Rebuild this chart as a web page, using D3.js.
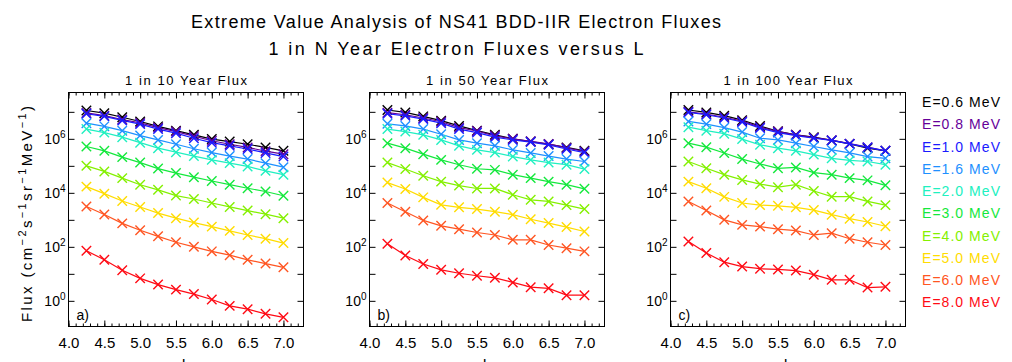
<!DOCTYPE html>
<html>
<head>
<meta charset="utf-8">
<script src="https://cdn.jsdelivr.net/npm/d3@7"></script>
<style>
	body{margin:0;background:#fff;}
	svg text{font-family:"Liberation Sans",Arial,sans-serif;fill:#000;}
</style>
</head>
<body>
<svg id="chart" width="1012" height="362"></svg>
<script>
const lValues = [4.25, 4.5, 4.75, 5.0, 5.25, 5.5, 5.75, 6.0, 6.25, 6.5, 6.75, 7.0];
const energyLabels = ["E=0.6 MeV", "E=0.8 MeV", "E=1.0 MeV", "E=1.6 MeV", "E=2.0 MeV",
	"E=3.0 MeV", "E=4.0 MeV", "E=5.0 MeV", "E=6.0 MeV", "E=8.0 MeV"];
const energyColors = ["#000000", "#650099", "#1a1aff", "#1e90ff", "#20f0c0",
	"#14e83c", "#84f000", "#ffdc00", "#ff5522", "#ff0a14"];
const panelTitles = ["1 in 10 Year Flux", "1 in 50 Year Flux", "1 in 100 Year Flux"];
const panelTags = ["a)", "b)", "c)"];
const xTickValues = [4.0, 4.5, 5.0, 5.5, 6.0, 6.5, 7.0];
const yTickValues = [1, 1e1, 1e2, 1e3, 1e4, 1e5, 1e6, 1e7];
const yLabelValues = [1, 1e2, 1e4, 1e6];

// flux per energy (rows) versus L (columns)
const flux10 = [
	[1.12e7, 8.9e6, 6.3e6, 4.4e6, 2.9e6, 2.0e6, 1.41e6, 9.8e5, 7.9e5, 6.3e5, 4.8e5, 3.6e5],
	[9.1e6, 7.2e6, 5.2e6, 3.9e6, 2.6e6, 1.86e6, 1.26e6, 8.5e5, 6.3e5, 4.8e5, 3.5e5, 2.7e5],
	[8.5e6, 6.8e6, 4.8e6, 3.5e6, 2.3e6, 1.62e6, 1.05e6, 7.2e5, 5.5e5, 4.2e5, 3.0e5, 2.2e5],
	[3.8e6, 2.9e6, 2.0e6, 1.32e6, 9.1e5, 6.3e5, 4.3e5, 3.1e5, 2.3e5, 1.78e5, 1.26e5, 8.9e4],
	[2.3e6, 1.7e6, 1.15e6, 7.2e5, 4.5e5, 3.2e5, 2.3e5, 1.66e5, 1.26e5, 9.5e4, 6.5e4, 4.7e4],
	[5.2e5, 3.6e5, 2.1e5, 1.32e5, 7.9e4, 5.4e4, 3.8e4, 2.75e4, 2.0e4, 1.48e4, 1.12e4, 7.8e3],
	[1.0e5, 6.2e4, 3.5e4, 2.0e4, 1.29e4, 7.9e3, 5.9e3, 4.2e3, 3.0e3, 2.2e3, 1.62e3, 1.15e3],
	[1.7e4, 9.3e3, 5.0e3, 3.0e3, 1.78e3, 1.15e3, 7.9e2, 5.6e2, 3.9e2, 2.75e2, 2.0e2, 1.38e2],
	[3.1e3, 1.58e3, 7.4e2, 4.1e2, 2.45e2, 1.48e2, 1.0e2, 68, 49, 33, 24, 17.4],
	[72, 33, 13.5, 6.8, 4.0, 2.6, 1.78, 1.12, 0.65, 0.49, 0.33, 0.245]
];
const flux50 = [
	[1.17e7, 9.5e6, 6.8e6, 4.7e6, 3.0e6, 2.0e6, 1.41e6, 1.0e6, 7.9e5, 6.3e5, 4.8e5, 3.6e5],
	[9.3e6, 7.8e6, 5.9e6, 4.3e6, 2.6e6, 1.95e6, 1.29e6, 1.0e6, 8.1e5, 6.5e5, 4.6e5, 3.4e5],
	[8.5e6, 7.1e6, 5.4e6, 3.8e6, 2.3e6, 1.7e6, 1.15e6, 9.1e5, 7.6e5, 6.0e5, 4.2e5, 3.1e5],
	[3.6e6, 3.0e6, 2.3e6, 1.48e6, 9.1e5, 6.9e5, 5.5e5, 3.9e5, 3.0e5, 2.3e5, 1.78e5, 1.45e5],
	[2.3e6, 1.86e6, 1.41e6, 9.1e5, 5.5e5, 3.9e5, 3.1e5, 2.2e5, 1.66e5, 1.32e5, 1.1e5, 7.6e4],
	[6.9e5, 4.5e5, 2.7e5, 1.66e5, 1.1e5, 7.8e4, 7.1e4, 4.7e4, 3.5e4, 2.6e4, 2.0e4, 1.41e4],
	[1.32e5, 7.6e4, 4.3e4, 2.6e4, 1.86e4, 1.45e4, 1.45e4, 8.5e3, 5.5e3, 4.8e3, 3.5e3, 2.5e3],
	[2.4e4, 1.38e4, 6.8e3, 3.6e3, 2.9e3, 2.5e3, 2.0e3, 1.55e3, 1.05e3, 7.6e2, 5.4e2, 3.7e2],
	[4.2e3, 2.0e3, 9.5e2, 6.0e2, 4.5e2, 3.4e2, 2.75e2, 1.82e2, 1.82e2, 1.17e2, 89, 68],
	[129, 48, 23, 14.1, 10.5, 8.5, 7.1, 4.8, 3.2, 2.9, 1.62, 1.62]
];
const flux100 = [
	[1.17e7, 9.5e6, 7.2e6, 4.9e6, 3.0e6, 1.9e6, 1.41e6, 1.15e6, 8.7e5, 6.5e5, 4.5e5, 3.6e5],
	[1.0e7, 8.3e6, 6.3e6, 4.5e6, 2.7e6, 1.86e6, 1.41e6, 1.1e6, 8.9e5, 6.6e5, 4.9e5, 3.6e5],
	[9.5e6, 7.8e6, 5.9e6, 4.2e6, 2.5e6, 1.7e6, 1.32e6, 1.05e6, 8.7e5, 6.5e5, 4.8e5, 3.6e5],
	[4.4e6, 3.5e6, 2.6e6, 1.78e6, 1.05e6, 9.1e5, 6.9e5, 5.2e5, 3.9e5, 3.0e5, 2.2e5, 1.9e5],
	[2.7e6, 2.0e6, 1.55e6, 9.8e5, 6.0e5, 4.5e5, 3.6e5, 2.6e5, 1.9e5, 1.58e5, 1.45e5, 1.1e5],
	[6.9e5, 4.9e5, 3.0e5, 1.78e5, 1.17e5, 8.1e4, 8.7e4, 5.6e4, 4.7e4, 3.5e4, 2.9e4, 1.9e4],
	[1.45e5, 8.1e4, 4.7e4, 3.0e4, 2.1e4, 1.62e4, 2.0e4, 1.17e4, 7.2e3, 7.2e3, 4.8e3, 3.5e3],
	[2.6e4, 1.48e4, 7.1e3, 4.2e3, 3.5e3, 3.3e3, 2.9e3, 2.3e3, 1.55e3, 1.1e3, 8.3e2, 5.8e2],
	[4.8e3, 2.2e3, 1.0e3, 6.5e2, 5.6e2, 4.5e2, 4.0e2, 2.75e2, 3.2e2, 2.0e2, 1.48e2, 1.17e2],
	[158, 59, 27, 18.6, 15.5, 14.5, 13.2, 9.3, 6.0, 6.0, 3.1, 3.3]
];
const panelFluxes = [flux10, flux50, flux100];

let svg = d3.select("#chart"),
	panelLeft = [68.5, 369.5, 670.5],
	panelWidth = 235,
	panelTop = 92.5,
	panelHeight = 234,
	y = d3.scaleLog().domain([0.112, 5.2e7]).range([panelTop + panelHeight, panelTop]);

// titles
svg.append("text").attr("x", 456).attr("y", 27.5).attr("text-anchor", "middle")
	.attr("font-size", "18px").attr("textLength", 530).attr("lengthAdjust", "spacing")
	.text("Extreme Value Analysis of NS41 BDD-IIR Electron Fluxes");
svg.append("text").attr("x", 456).attr("y", 55).attr("text-anchor", "middle")
	.attr("font-size", "18px").attr("textLength", 375).attr("lengthAdjust", "spacing")
	.text("1 in N Year Electron Fluxes versus L");

panelFluxes.forEach(function(fluxes, i){
	drawPanel(i, fluxes);
});
drawLegend();
drawYLabel();

function drawPanel(i, fluxes){
	let left = panelLeft[i],
		bottom = panelTop + panelHeight,
		x = d3.scaleLinear().domain([4.0, 7.28]).range([left, left + panelWidth]),
		minorTicks = d3.range(40, 73).map(function(v){ return v / 10; }),
		g = svg.append("g").attr("class", "panel"),
		line = d3.line()
			.x(function(d, j){ return x(lValues[j]); })
			.y(function(d){ return y(d); });

	g.append("text").attr("x", left + panelWidth / 2).attr("y", 85).attr("text-anchor", "middle")
		.attr("font-size", "13px").attr("textLength", i === 2 ? 129 : 122).attr("lengthAdjust", "spacing")
		.text(panelTitles[i]);

	// frame and inward ticks
	g.append("rect").attr("x", left).attr("y", panelTop).attr("width", panelWidth).attr("height", panelHeight)
		.attr("fill", "none").attr("stroke", "#000").attr("stroke-width", 1);

	addAxis(d3.axisBottom(x).tickValues(minorTicks).tickSize(-3).tickFormat(""), 0, bottom);
	addAxis(d3.axisTop(x).tickValues(minorTicks).tickSize(-3).tickFormat(""), 0, panelTop);
	addAxis(d3.axisTop(x).tickValues(xTickValues).tickSize(-6).tickFormat(""), 0, panelTop);
	addAxis(d3.axisLeft(y).tickValues(yTickValues).tickSize(-6).tickFormat(""), left, 0);
	addAxis(d3.axisRight(y).tickValues(yTickValues).tickSize(-6).tickFormat(""), left + panelWidth, 0);
	addAxis(d3.axisBottom(x).tickValues(xTickValues).tickSize(-6).tickPadding(11)
		.tickFormat(d3.format(".1f")), 0, bottom)
		.selectAll("text").attr("font-size", "15px").attr("font-family", "Liberation Sans, Arial, sans-serif");

	g.selectAll(".ylab").data(yLabelValues).enter().append("text")
		.attr("class", "ylab")
		.attr("x", left - 3)
		.attr("y", function(d){ return y(d) + 5; })
		.attr("text-anchor", "end")
		.attr("font-size", "14px")
		.each(function(d){
			let t = d3.select(this);
			t.append("tspan").text("10");
			t.append("tspan").attr("dy", -6).attr("font-size", "10px").text(Math.round(Math.log10(d)));
		});

	fluxes.forEach(function(series, k){
		let color = energyColors[k];
		g.append("path").datum(series).attr("d", line)
			.attr("fill", "none").attr("stroke", color).attr("stroke-width", 1.2);
		g.selectAll(".mk" + k).data(series).enter().append("path")
			.attr("class", "mk" + k)
			.attr("d", d3.symbol().type(d3.symbolX).size(60))
			.attr("transform", function(d, j){ return "translate(" + x(lValues[j]) + "," + y(d) + ")"; })
			.attr("fill", "none").attr("stroke", color).attr("stroke-width", 1.4);
	});

	g.append("text").attr("x", left + 8).attr("y", 320).attr("font-size", "14px").text(panelTags[i]);
	g.append("text").attr("x", left + panelWidth / 2).attr("y", 369).attr("text-anchor", "middle")
		.attr("font-size", "15px").text("L");

	function addAxis(axis, tx, ty){
		let a = g.append("g").attr("transform", "translate(" + tx + "," + ty + ")").call(axis);
		a.select(".domain").remove();
		a.selectAll("line").attr("stroke", "#000");
		return a;
	}
}

function drawLegend(){
	svg.selectAll(".legend").data(energyLabels).enter().append("text")
		.attr("class", "legend")
		.attr("x", 922)
		.attr("y", function(d, k){ return 107 + k * 22.25; })
		.attr("font-size", "14px")
		.attr("textLength", 78).attr("lengthAdjust", "spacing")
		.style("fill", function(d, k){ return energyColors[k]; })
		.text(function(d){ return d; });
}

function drawYLabel(){
	let t = svg.append("text")
		.attr("transform", "translate(32,214) rotate(-90)")
		.attr("text-anchor", "middle")
		.attr("font-size", "15px")
		.attr("textLength", 216).attr("lengthAdjust", "spacing");
	t.append("tspan").text("Flux (cm");
	t.append("tspan").attr("dy", -6).attr("font-size", "11px").text("\u22122");
	t.append("tspan").attr("dy", 6).text("s");
	t.append("tspan").attr("dy", -6).attr("font-size", "11px").text("\u22121");
	t.append("tspan").attr("dy", 6).text("sr");
	t.append("tspan").attr("dy", -6).attr("font-size", "11px").text("\u22121");
	t.append("tspan").attr("dy", 6).text("MeV");
	t.append("tspan").attr("dy", -6).attr("font-size", "11px").text("\u22121");
	t.append("tspan").attr("dy", 6).text(")");
}
</script>
</body>
</html>
